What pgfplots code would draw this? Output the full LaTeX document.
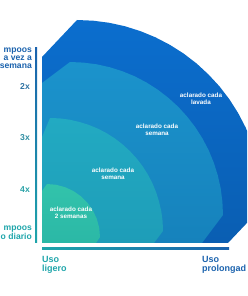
\documentclass[border=0pt]{standalone}
\usepackage{fontspec}
\setmainfont{Liberation Sans}
\usepackage{pgfplots}
\pgfplotsset{compat=1.18}
\definecolor{oT}{HTML}{0B6ECE}
\definecolor{oB}{HTML}{0A5EB2}
\definecolor{sT}{HTML}{1B93CC}
\definecolor{sB}{HTML}{1682BC}
\definecolor{tT}{HTML}{22AAC2}
\definecolor{tB}{HTML}{1E9DB8}
\definecolor{iT}{HTML}{32C3AB}
\definecolor{iB}{HTML}{2BB8A6}
\definecolor{lblue}{HTML}{1A62AD}
\definecolor{lteal}{HTML}{1EA5AA}
\begin{document}
\begin{tikzpicture}
\begin{axis}[scale only axis, width=247pt, height=296pt,
  xmin=-42, xmax=205, ymin=-53, ymax=243, hide axis]
% outer layer: aclarado cada lavada
\addplot[draw=none, top color=oT, bottom color=oB] coordinates {
(0,0) (0,186) (35,223) (51.2,222.3) (67.3,220.2) (83.1,216.7) (98.6,211.8)
(113.6,205.6) (128,198.1) (141.7,189.4) (154.6,179.5) (166.5,168.5)
(177.5,156.6) (187.4,143.7) (196.1,130) (203.6,115.6) (209.8,100.6)
(214.7,85.1) (218.2,69.3) (220.3,53.2) (221,37) (186,0)} -- cycle;
% second layer: aclarado cada semana
\addplot[draw=none, top color=sT, bottom color=sB] coordinates {
(0,0) (0,160) (28,181) (41.3,180.4) (54.6,178.7) (67.6,175.8) (80.3,171.8)
(92.7,166.7) (104.5,160.5) (115.8,153.3) (126.3,145.2) (136.2,136.2)
(145.2,126.3) (153.3,115.8) (160.5,104.5) (166.7,92.7) (171.8,80.3)
(175.8,67.6) (178.7,54.6) (180.4,41.3) (181,28) (160,0)} -- cycle;
% third layer: aclarado cada semana
\addplot[draw=none, top color=tT, bottom color=tB] coordinates {
(0,0) (0,106) (8,125) (17.9,124.6) (27.6,123.3) (37.2,121.1) (46.6,118.2)
(55.8,114.4) (64.5,109.9) (72.8,104.6) (80.6,98.6) (87.9,91.9) (94.6,84.6)
(100.6,76.8) (105.9,68.5) (110.4,59.8) (114.2,50.6) (117.1,41.2)
(119.3,31.6) (120.6,21.9) (121,12) (112,0)} -- cycle;
% inner layer: aclarado cada 2 semanas
\addplot[draw=none, top color=iT, bottom color=iB] coordinates {
(0,0) (0,52) (5,59) (14.2,58.2) (23.1,55.8) (31.5,51.9) (39.1,46.6)
(45.6,40.1) (50.9,32.5) (54.8,24.1) (57.2,15.2) (58,6) (54,0)} -- cycle;
% axis lines
\addplot[draw=none, top color=lblue, bottom color=lteal] coordinates {
(-7,0) (-5,0) (-5,195) (-7,195)} -- cycle;
\addplot[draw=none, left color=lteal, right color=lblue] coordinates {
(0,-7) (187,-7) (187,-5) (0,-5)} -- cycle;
% layer labels
\tikzset{lay/.style={text=white, align=center, inner sep=0pt,
  font=\bfseries\fontsize{6.3}{7.2}\selectfont}}
\node[lay] at (axis cs:159,144) {aclarado cada\\lavada};
\node[lay] at (axis cs:115,113) {aclarado cada\\semana};
\node[lay] at (axis cs:71,69) {aclarado cada\\semana};
\node[lay] at (axis cs:29,30) {aclarado cada\\2 semanas};
% left labels
\tikzset{lft/.style={anchor=east, align=right, inner sep=0pt,
  font=\bfseries\fontsize{8.6}{8}\selectfont}}
\node[lft, text=lblue] at (axis cs:-10,185) {mpoos\\a vez a\\semana};
\node[lft, text=lblue!80!lteal!80!gray] at (axis cs:-12,156) {2x};
\node[lft, text=lteal!70!lblue!80!gray] at (axis cs:-12,105) {3x};
\node[lft, text=lteal!90!gray] at (axis cs:-12,53) {4x};
\node[lft, text=lteal] at (axis cs:-10,10) {mpoos\\o diario};
% bottom labels
\tikzset{bot/.style={anchor=north west, align=left, inner sep=0pt,
  font=\bfseries\fontsize{9}{9}\selectfont}}
\node[bot, text=lteal] at (axis cs:0,-13) {Uso\\ligero};
\node[bot, text=lblue] at (axis cs:160,-13) {Uso\\prolongad};
\end{axis}
\pgfresetboundingbox
\useasboundingbox (0,0) rectangle (247pt,296pt);
\end{tikzpicture}
\end{document}
